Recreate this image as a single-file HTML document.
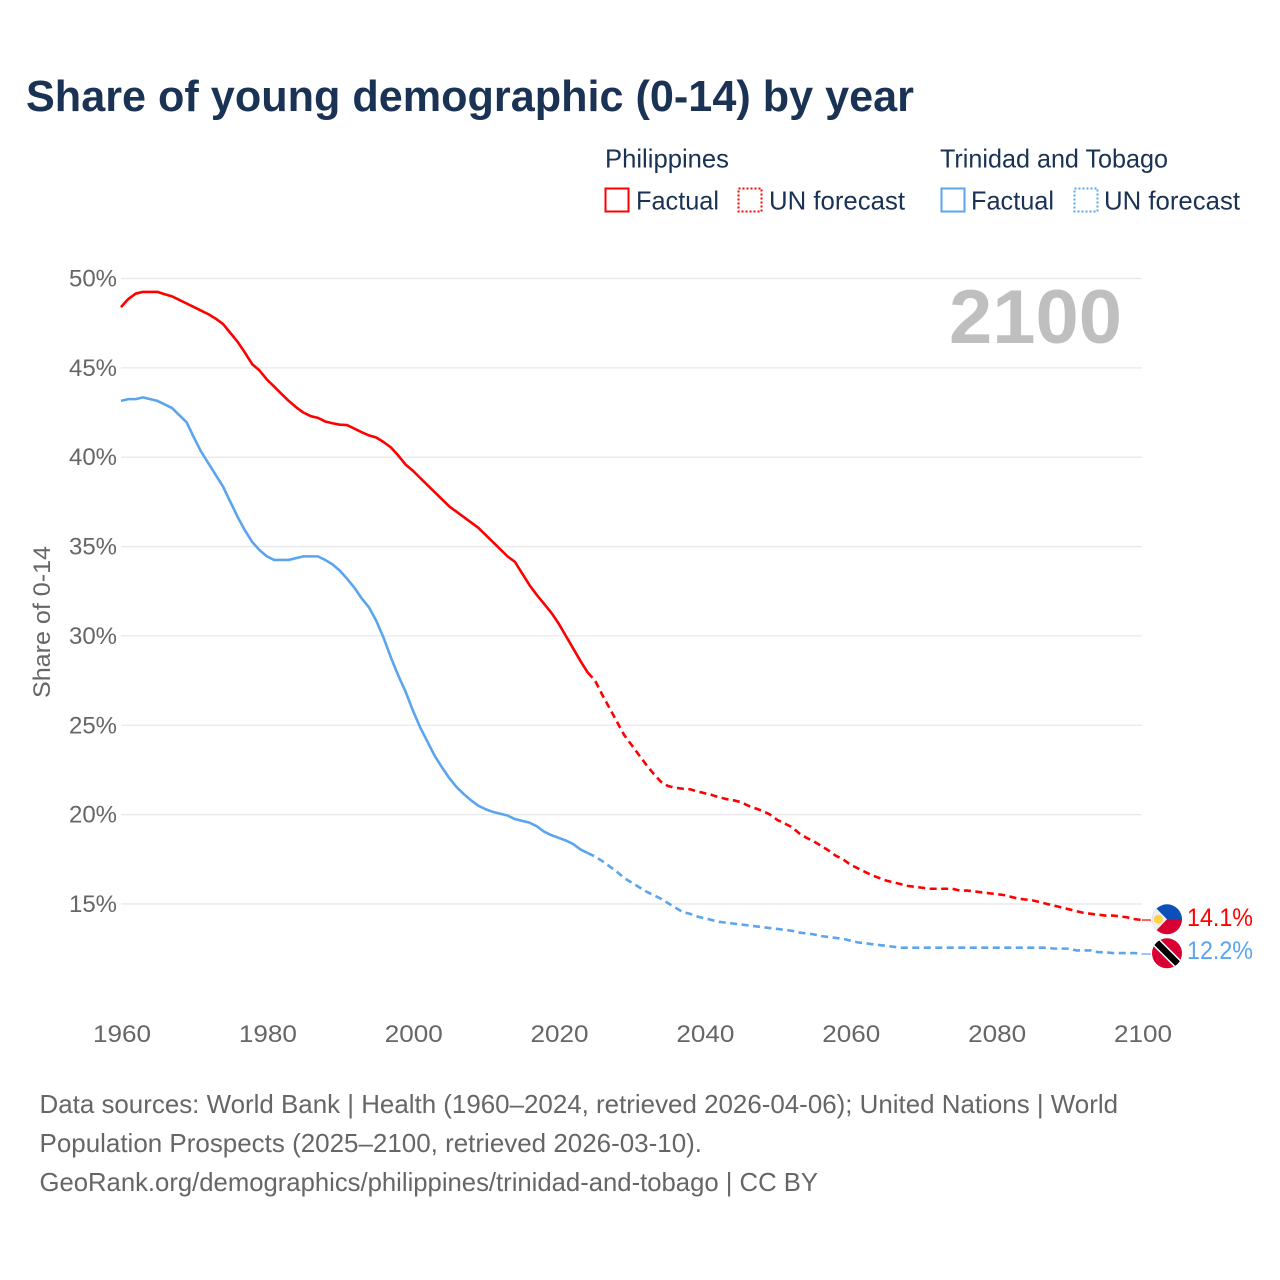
<!DOCTYPE html>
<html lang="en">
<head>
<meta charset="utf-8">
<title>Share of young demographic (0-14) by year</title>
<style>
html,body{margin:0;padding:0;background:#fff;}
svg{display:block;font-family:"Liberation Sans",sans-serif;}
</style>
</head>
<body>
<svg id="chart" width="1280" height="1280" viewBox="0 0 1280 1280" xmlns="http://www.w3.org/2000/svg">
  <defs>
    <clipPath id="ph-clip"><circle cx="1167" cy="919.3" r="15"/></clipPath>
    <clipPath id="tt-clip"><circle cx="1167" cy="953.3" r="15"/></clipPath>
  </defs>
  <rect width="1280" height="1280" fill="#fff"/>
  <text x="26" y="111" font-size="44" font-weight="700" fill="#1a3254" textLength="888" lengthAdjust="spacingAndGlyphs">Share of young demographic (0-14) by year</text>

  <g font-size="26" fill="#1a3254">
    <text x="605" y="167.5" textLength="124" lengthAdjust="spacingAndGlyphs">Philippines</text>
    <text x="940" y="167.5" textLength="228" lengthAdjust="spacingAndGlyphs">Trinidad and Tobago</text>
    <rect x="605.5" y="188.5" width="23" height="23" fill="none" stroke="#ff0000" stroke-width="2"/>
    <text x="636" y="209.5" textLength="83" lengthAdjust="spacingAndGlyphs">Factual</text>
    <rect x="738.5" y="188.5" width="23" height="23" fill="none" stroke="#ff0000" stroke-width="2" stroke-dasharray="2 2"/>
    <text x="769" y="209.5" textLength="136" lengthAdjust="spacingAndGlyphs">UN forecast</text>
    <rect x="941.5" y="188.5" width="23" height="23" fill="none" stroke="#5aa5ee" stroke-width="2"/>
    <text x="971" y="209.5" textLength="83" lengthAdjust="spacingAndGlyphs">Factual</text>
    <rect x="1074.5" y="188.5" width="23" height="23" fill="none" stroke="#5aa5ee" stroke-width="2" stroke-dasharray="2 2"/>
    <text x="1104" y="209.5" textLength="136" lengthAdjust="spacingAndGlyphs">UN forecast</text>
  </g>

  <g id="grid"></g>
  <g id="y-ticks"></g>
  <g id="x-ticks"></g>
  <text transform="translate(50,622) rotate(-90)" text-anchor="middle" font-size="24" fill="#666" textLength="152" lengthAdjust="spacingAndGlyphs">Share of 0-14</text>
  <text x="949" y="343" font-size="76" font-weight="700" fill="#bfbfbf" textLength="173" lengthAdjust="spacingAndGlyphs">2100</text>
  <g id="series"></g>

  <g clip-path="url(#ph-clip)">
    <rect x="1150" y="904" width="34" height="15.5" fill="#0a50b8"/>
    <rect x="1150" y="919.3" width="34" height="16" fill="#d80032"/>
    <polygon points="1150,902 1150,937 1167,919.3" fill="#f0f0f0"/>
    <circle cx="1158.3" cy="919.3" r="4.6" fill="#ffd24a"/>
  </g>
  <g clip-path="url(#tt-clip)">
    <rect x="1150" y="936" width="34" height="34" fill="#d80032"/>
    <line x1="1153" y1="939" x2="1181" y2="967" stroke="#fff" stroke-width="9.5"/>
    <line x1="1153" y1="939" x2="1181" y2="967" stroke="#000" stroke-width="6.5"/>
  </g>
  <text id="end-ph" x="1187" y="926" font-size="25" fill="#ff0000" textLength="66" lengthAdjust="spacingAndGlyphs">14.1%</text>
  <text id="end-tt" x="1187" y="959" font-size="25" fill="#5aa5ee" textLength="66" lengthAdjust="spacingAndGlyphs">12.2%</text>

  <g font-size="26" fill="#666">
    <text x="39.5" y="1113" textLength="1078.5" lengthAdjust="spacingAndGlyphs">Data sources: World Bank | Health (1960–2024, retrieved 2026-04-06); United Nations | World</text>
    <text x="39.5" y="1152" textLength="662.5" lengthAdjust="spacingAndGlyphs">Population Prospects (2025–2100, retrieved 2026-03-10).</text>
    <text x="39.5" y="1191" textLength="778.5" lengthAdjust="spacingAndGlyphs">GeoRank.org/demographics/philippines/trinidad-and-tobago | CC BY</text>
  </g>
</svg>
<script>
const firstYear = 1960;
const lastFactualYear = 2024;
const yTicks = [15, 20, 25, 30, 35, 40, 45, 50];
const xTicks = [1960, 1980, 2000, 2020, 2040, 2060, 2080, 2100];
const philippines = [
48.4,48.85,49.15,49.25,49.25,49.25,49.12,49.0,48.8,48.6,48.4,48.2,48.0,47.75,47.45,46.95,46.45,45.85,45.2,44.85,
44.35,43.95,43.55,43.15,42.8,42.5,42.3,42.2,42.0,41.9,41.82,41.8,41.6,41.4,41.22,41.1,40.85,40.55,40.1,39.6,
39.25,38.85,38.45,38.05,37.65,37.25,36.95,36.65,36.35,36.05,35.65,35.25,34.85,34.45,34.15,33.5,32.85,32.3,31.8,31.3,
30.7,30.0,29.3,28.6,27.95,27.5,26.7,25.95,25.2,24.45,23.9,23.35,22.8,22.3,21.85,21.6,21.5,21.45,21.42,21.3,
21.2,21.1,20.97,20.87,20.8,20.7,20.5,20.35,20.2,20.0,19.7,19.5,19.3,18.95,18.7,18.5,18.25,18.0,17.7,17.5,
17.2,17.0,16.8,16.6,16.45,16.3,16.2,16.1,16.0,15.95,15.9,15.85,15.85,15.85,15.85,15.75,15.75,15.7,15.65,15.6,
15.55,15.5,15.4,15.3,15.25,15.2,15.1,15.0,14.9,14.8,14.7,14.6,14.5,14.45,14.4,14.35,14.35,14.3,14.25,14.15,14.1
];
const trinidad = [
43.15,43.25,43.25,43.35,43.25,43.15,42.95,42.75,42.35,41.95,41.1,40.3,39.65,39.0,38.35,37.5,36.65,35.9,35.25,34.8,
34.45,34.25,34.25,34.25,34.35,34.45,34.45,34.45,34.25,34.0,33.65,33.2,32.7,32.1,31.6,30.85,29.9,28.8,27.8,26.9,
25.85,24.9,24.1,23.3,22.65,22.05,21.55,21.15,20.8,20.5,20.3,20.15,20.05,19.95,19.75,19.65,19.55,19.35,19.05,18.85,
18.7,18.55,18.35,18.05,17.85,17.65,17.4,17.1,16.8,16.45,16.2,15.95,15.7,15.5,15.3,15.05,14.8,14.55,14.45,14.3,
14.2,14.1,14.0,13.95,13.9,13.85,13.8,13.75,13.7,13.65,13.6,13.55,13.5,13.4,13.35,13.3,13.2,13.15,13.1,13.05,
12.95,12.85,12.8,12.75,12.7,12.65,12.6,12.55,12.55,12.55,12.55,12.55,12.55,12.55,12.55,12.55,12.55,12.55,12.55,12.55,
12.55,12.55,12.55,12.55,12.55,12.55,12.55,12.55,12.5,12.5,12.5,12.4,12.4,12.4,12.3,12.3,12.25,12.25,12.25,12.25,12.2
];

const NS = 'http://www.w3.org/2000/svg';
function xScale(year) { return 121 + (year - 1960) * (1142 - 121) / 140; }
function yScale(value) { return 278.5 + (50 - value) * 17.87; }
function lineFrom(values, from, to) {
  let d = '';
  for (let y = from; y <= to; y++) {
    d += (d ? 'L' : 'M') + xScale(y).toFixed(2) + ' ' + yScale(values[y - firstYear]).toFixed(2);
  }
  return d;
}

const gridGroup = document.getElementById('grid');
const yGroup = document.getElementById('y-ticks');
yTicks.forEach(function (t) {
  const g = document.createElementNS(NS, 'line');
  
  
  g.setAttribute('x1', 121);
  g.setAttribute('x2', 1142);
  g.setAttribute('y1', yScale(t));
  g.setAttribute('y2', yScale(t));
  g.setAttribute('stroke', '#e8e8e8');
  g.setAttribute('stroke-width', '1.3');
  gridGroup.appendChild(g);
  const l = document.createElementNS(NS, 'text');
  
  
  l.setAttribute('x', 117);
  l.setAttribute('y', yScale(t) + 8);
  l.setAttribute('text-anchor', 'end');
  l.setAttribute('font-size', '24');
  l.setAttribute('fill', '#666');
  l.setAttribute('textLength', '48');
  l.setAttribute('lengthAdjust', 'spacingAndGlyphs');
  l.textContent = t + '%';
  yGroup.appendChild(l);
});

const xGroup = document.getElementById('x-ticks');
xTicks.forEach(function (t) {
  const l = document.createElementNS(NS, 'text');
  
  
  l.setAttribute('x', xScale(t) + 1);
  l.setAttribute('y', 1042);
  l.setAttribute('text-anchor', 'middle');
  l.setAttribute('font-size', '24');
  l.setAttribute('fill', '#666');
  l.setAttribute('textLength', '58');
  l.setAttribute('lengthAdjust', 'spacingAndGlyphs');
  l.textContent = t;
  xGroup.appendChild(l);
});

const seriesGroup = document.getElementById('series');
const endYear = firstYear + philippines.length - 1;
function addPath(d, color, dash, width) {
  const p = document.createElementNS(NS, 'path');
  
  
  p.setAttribute('d', d);
  p.setAttribute('fill', 'none');
  p.setAttribute('stroke', color);
  p.setAttribute('stroke-width', width);
  p.setAttribute('stroke-linejoin', 'round');
  if (dash) p.setAttribute('stroke-dasharray', dash);
  seriesGroup.appendChild(p);
}
addPath(lineFrom(trinidad, firstYear, lastFactualYear), '#5aa5ee', '', '2.6');
addPath(lineFrom(trinidad, lastFactualYear, endYear), '#5aa5ee', '7 4.5', '2.6');
addPath(lineFrom(philippines, firstYear, lastFactualYear), '#ff0000', '', '2.6');
addPath(lineFrom(philippines, lastFactualYear, endYear), '#ff0000', '7 4.5', '2.6');

function addLeader(value, color) {
  const y = yScale(value);
  addPath('M' + xScale(endYear) + ' ' + y + 'L1151 ' + y, color, '', '1.2');
}
addLeader(philippines[philippines.length - 1], '#ff0000');
addLeader(trinidad[trinidad.length - 1], '#5aa5ee');

document.getElementById('end-ph').textContent = philippines[philippines.length - 1].toFixed(1) + '%';
document.getElementById('end-tt').textContent = trinidad[trinidad.length - 1].toFixed(1) + '%';
</script>
</body>
</html>
